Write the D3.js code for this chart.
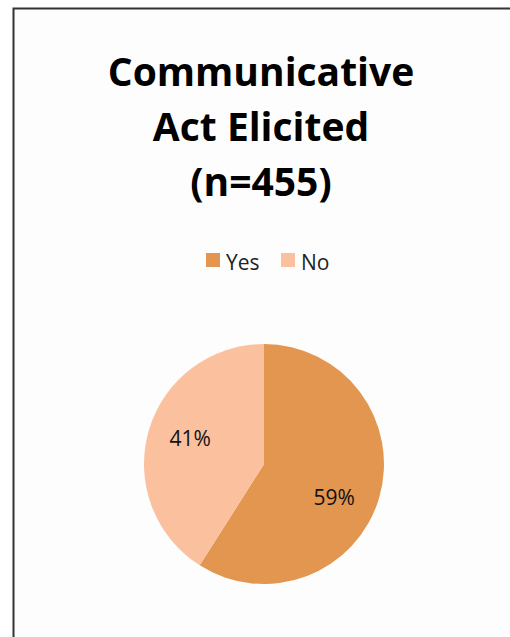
<!DOCTYPE html>
<html>
<head>
<meta charset="utf-8">
<script src="https://cdn.jsdelivr.net/npm/d3@7"></script>
<style>
  body { margin: 0; background: #fff; }
  svg { display: block; }
</style>
</head>
<body>
<svg></svg>
<script>
const w = 510;
const h = 637;

const titleLines = ['Communicative', 'Act Elicited', '(n=455)'];
const categories = ['Yes', 'No'];
const values = [59, 41];
const colors = ['#e2964f', '#fbc19f'];

const font = '"Open Sans", Lato, sans-serif';

const svg = d3.select('svg').attr('width', w).attr('height', h);

// chart frame, runs off the right and bottom edges
svg
  .append('rect')
  .attr('x', 13.5)
  .attr('y', 8.5)
  .attr('width', w + 20)
  .attr('height', h + 20)
  .attr('fill', '#fdfdfd')
  .attr('stroke', '#333')
  .attr('stroke-width', 2);

svg
  .selectAll('.title')
  .data(titleLines)
  .enter()
  .append('text')
  .attr('class', 'title')
  .text(d => d)
  .attr('x', 261)
  .attr('y', (d, i) => 86 + i * 55)
  .attr('text-anchor', 'middle')
  .style('font-family', font)
  .style('font-weight', 'bold')
  .style('font-size', '39px')
  .attr('fill', '#000');

// legend
const legendX = d3.scaleOrdinal().domain(categories).range([206, 281]);

const legend = svg
  .selectAll('.legend')
  .data(categories)
  .enter()
  .append('g')
  .attr('class', 'legend')
  .attr('transform', d => `translate(${legendX(d)},253)`);

legend
  .append('rect')
  .attr('width', 14)
  .attr('height', 14)
  .attr('fill', (d, i) => colors[i]);

legend
  .append('text')
  .text(d => d)
  .attr('x', 20)
  .attr('y', 17)
  .style('font-family', font)
  .style('font-size', '21px')
  .attr('fill', '#222');

// pie
const cx = 264;
const cy = 464;
const r = 120;

const pie = d3.pie().sort(null).value(d => d);
const arc = d3.arc().innerRadius(0).outerRadius(r);

const g = svg.append('g').attr('transform', `translate(${cx},${cy})`);

const slices = pie(values);

g.selectAll('path')
  .data(slices)
  .enter()
  .append('path')
  .attr('d', arc)
  .attr('fill', (d, i) => colors[i]);

// excel "best fit" nudges the labels a bit clockwise
const labelShift = [0.17, 0.05];
const labelPos = (d, i) => {
  const a = (d.startAngle + d.endAngle) / 2 + labelShift[i];
  const rr = r * 0.65;
  return [Math.sin(a) * rr, -Math.cos(a) * rr];
};

g.selectAll('.lbl')
  .data(slices)
  .enter()
  .append('text')
  .attr('class', 'lbl')
  .text(d => d.data + '%')
  .attr('transform', (d, i) => `translate(${labelPos(d, i)})`)
  .attr('text-anchor', 'middle')
  .attr('dy', '0.35em')
  .style('font-family', font)
  .style('font-size', '21px')
  .attr('fill', '#111');
</script>
</body>
</html>
